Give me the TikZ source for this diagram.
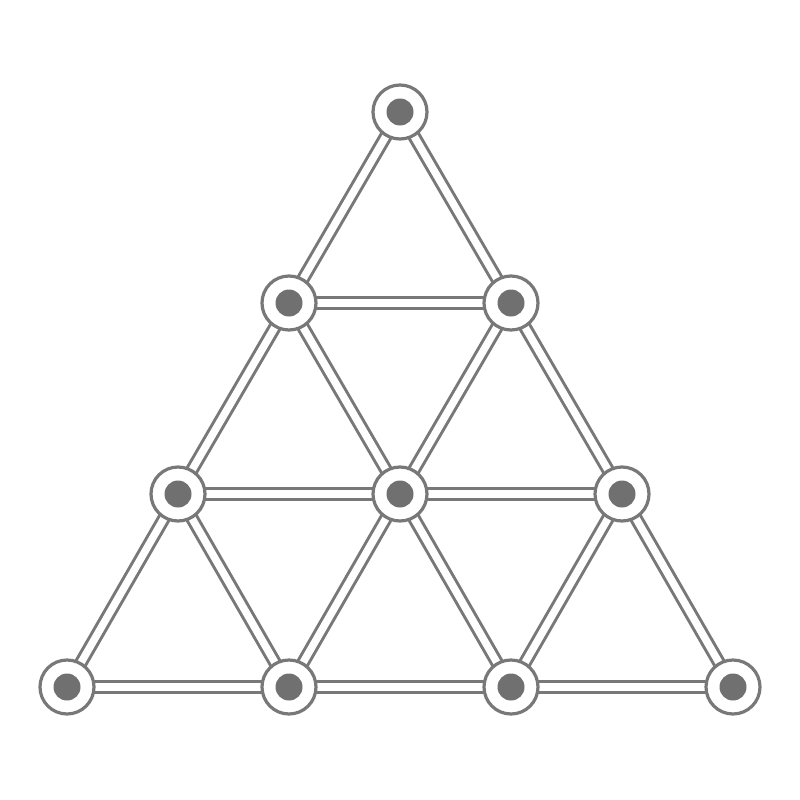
\documentclass[tikz,border=0pt]{standalone}
\begin{document}
\begin{tikzpicture}[x=1pt,y=-1pt,
  strokegray/.style={draw=black!53},
  vtx/.style={circle,strokegray,line width=3.2pt,fill=white,minimum size=54pt,inner sep=0pt},
  dot/.style={circle,fill=black!56,minimum size=27pt,inner sep=0pt},
  bar/.style={strokegray,line width=3pt,double=white,double distance=7.5pt}]
\useasboundingbox (0,0) rectangle (800,800);
\fill[white] (0,0) rectangle (800,800);
% vertex positions
\coordinate (p00) at (400,112);
\coordinate (p10) at (289,303);
\coordinate (p11) at (511,303);
\coordinate (p20) at (178,494);
\coordinate (p21) at (400,494);
\coordinate (p22) at (622,494);
\coordinate (p30) at (67,687);
\coordinate (p31) at (289,687);
\coordinate (p32) at (511,687);
\coordinate (p33) at (733,687);
% bars
\foreach \a/\b in {p00/p10,p00/p11,p10/p11,
  p10/p20,p10/p21,p11/p21,p11/p22,p20/p21,p21/p22,
  p20/p30,p20/p31,p21/p31,p21/p32,p22/p32,p22/p33,
  p30/p31,p31/p32,p32/p33}
  \draw[bar] (\a) -- (\b);
% vertices
\foreach \p in {p00,p10,p11,p20,p21,p22,p30,p31,p32,p33}{
  \node[vtx] (n\p) at (\p) {};
  \node[dot] (d\p) at (\p) {};
}
\end{tikzpicture}
\end{document}
